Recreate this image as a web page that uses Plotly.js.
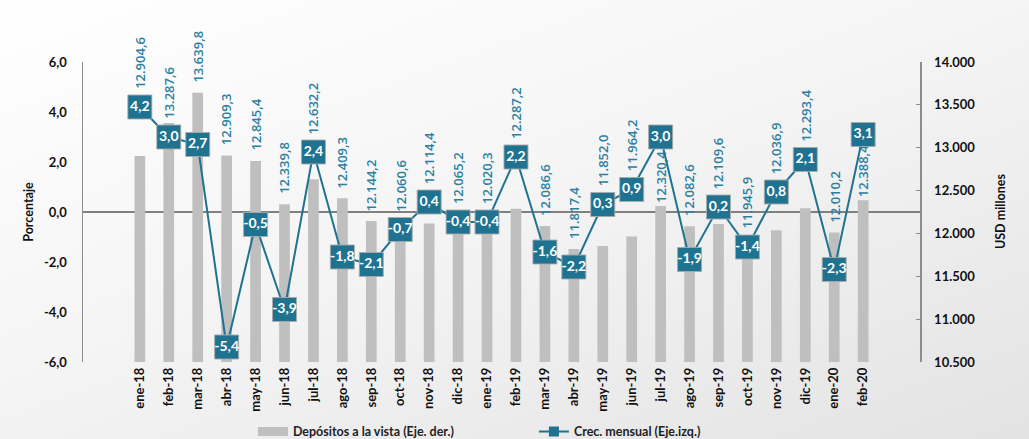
<!DOCTYPE html>
<html>
<head>
<meta charset="utf-8">
<script src="https://cdn.plot.ly/plotly-3.0.1.min.js"></script>
<style>
html,body{margin:0;padding:0;}
body{width:1029px;height:439px;background:linear-gradient(160deg,#ffffff 0%,#f5f5f5 45%,#e3e3e3 100%);overflow:hidden;}
#chart{width:1029px;height:439px;}
</style>
</head>
<body>
<div id="chart"></div>
<script>
// ---- data ----
var categories = ['ene-18','feb-18','mar-18','abr-18','may-18','jun-18','jul-18','ago-18','sep-18','oct-18','nov-18','dic-18','ene-19','feb-19','mar-19','abr-19','may-19','jun-19','jul-19','ago-19','sep-19','oct-19','nov-19','dic-19','ene-20','feb-20'];
var depositos = [12904.6,13287.6,13639.8,12909.3,12845.4,12339.8,12632.2,12409.3,12144.2,12060.6,12114.4,12065.2,12020.3,12287.2,12086.6,11817.4,11852.0,11964.2,12320.4,12082.6,12109.6,11945.9,12036.9,12293.4,12010.2,12388.4];
var crecMensual = [4.2,3.0,2.7,-5.4,-0.5,-3.9,2.4,-1.8,-2.1,-0.7,0.4,-0.4,-0.4,2.2,-1.6,-2.2,0.3,0.9,3.0,-1.9,0.2,-1.4,0.8,2.1,-2.3,3.1];
var leftTickVals = [-6,-4,-2,0,2,4,6];
var leftTickText = ['-6,0','-4,0','-2,0','0,0','2,0','4,0','6,0'];
// placement of each deposit label: 'm' above the line marker, 'b' above the bar, 'u' under the marker (bar text)
var labelPlacement = ['m','m','b','b','b','b','m','b','b','m','m','m','m','m','b','b','m','m','u','b','m','b','m','m','b','u'];

// ---- helpers ----
function fmtDep(v){
  var parts = v.toFixed(1).split('.');
  var ip = parts[0].replace(/\B(?=(\d{3})+(?!\d))/g,'.');
  return ip + ',' + parts[1];
}
function fmtPct(v){ return v.toFixed(1).replace('.',','); }

var TEAL = '#1f7391';
var LABEL = '#2a7fa2';
var FONT = 'Lato, "Open Sans", sans-serif';
var labelFont = {family:'"Open Sans", sans-serif', size:13, color:LABEL, weight:600};
var tickFont = {family:FONT, size:13, color:'#111', weight:'bold'};

var barText = depositos.map(function(v,i){
  return labelPlacement[i] === 'u' ? fmtDep(v) : '';
});

var annotations = [];
categories.forEach(function(c,i){
  if (labelPlacement[i] === 'm') {
    annotations.push({x:c, y:crecMensual[i], xref:'x', yref:'y2', text:fmtDep(depositos[i]),
      textangle:-90, showarrow:false, yanchor:'bottom', xanchor:'center', yshift:16, font:labelFont});
  } else if (labelPlacement[i] === 'b') {
    annotations.push({x:c, y:depositos[i], xref:'x', yref:'y', text:fmtDep(depositos[i]),
      textangle:-90, showarrow:false, yanchor:'bottom', xanchor:'center', yshift:8, font:labelFont});
  }
});
annotations.push({xref:'paper', yref:'paper', x:-0.066, y:0.5, text:'Porcentaje', textangle:-90,
  showarrow:false, xanchor:'center', yanchor:'middle', font:{family:FONT, size:12.5, color:'#111', weight:'bold'}});
annotations.push({xref:'paper', yref:'paper', x:1.0956, y:0.5, text:'USD millones', textangle:-90,
  showarrow:false, xanchor:'center', yanchor:'middle', font:{family:FONT, size:12.5, color:'#111', weight:'bold'}});

var traces = [
  {
    type:'bar', x:categories, y:depositos, yaxis:'y',
    marker:{color:'#bfbfbf'}, showlegend:false,
    text:barText, textposition:'outside', textangle:-90, constraintext:'none',
    cliponaxis:false, textfont:labelFont, hoverinfo:'skip'
  },
  {
    type:'scatter', mode:'lines+markers+text', x:categories, y:crecMensual, yaxis:'y2',
    line:{color:TEAL, width:2},
    marker:{symbol:'square', size:24, color:TEAL, line:{color:'rgba(170,170,170,0.9)', width:1}},
    text:crecMensual.map(fmtPct), textposition:'middle center',
    textfont:{family:FONT, size:14, color:'#ffffff', weight:'bold'},
    cliponaxis:false, showlegend:false, hoverinfo:'skip'
  },
  {
    type:'scatter', mode:'lines', x:[null], y:[null], name:'Depósitos a la vista (Eje. der.)',
    line:{color:'#bfbfbf', width:9}
  },
  {
    type:'scatter', mode:'lines+markers', x:[null], y:[null], name:'Crec. mensual (Eje.izq.)',
    line:{color:TEAL, width:2}, marker:{symbol:'square', size:10, color:TEAL}
  }
];

var layout = {
  width:1029, height:439,
  margin:{l:83, r:109, t:62, b:77, pad:0, autoexpand:false},
  paper_bgcolor:'rgba(0,0,0,0)', plot_bgcolor:'rgba(0,0,0,0)',
  separators:',.',
  font:{family:FONT, color:'#111'},
  bargap:0.63,
  showlegend:true,
  legend:{orientation:'h', x:0.203, xanchor:'left', y:-0.233, yanchor:'middle',
          font:{family:FONT, size:12.5, color:'#222', weight:'bold'}, entrywidth:236,
          bgcolor:'rgba(0,0,0,0)'},
  xaxis:{type:'category', showline:false, ticks:'', showgrid:false, zeroline:false, automargin:false,
         tickangle:-90, tickfont:tickFont, ticklabelstandoff:2},
  yaxis:{range:[10500,14000], dtick:500, tick0:10500, tickformat:',.0f', side:'right',
          showgrid:false, zeroline:false, showline:true, linecolor:'#8c8c8c', linewidth:1.5,
          ticks:'inside', ticklen:4, tickcolor:'#8c8c8c', automargin:false,
          tickfont:tickFont, ticklabelstandoff:10},
  yaxis2:{range:[-6,6], tickvals:leftTickVals, ticktext:leftTickText, showgrid:false,
         overlaying:'y', side:'left', automargin:false,
         showline:true, linecolor:'#8c8c8c', linewidth:1.5, ticks:'',
         zeroline:true, zerolinecolor:'#808080', zerolinewidth:1.5,
         tickfont:tickFont, ticklabelstandoff:12},
  annotations:annotations
};

Plotly.newPlot('chart', traces, layout, {displayModeBar:false, staticPlot:true});
</script>
</body>
</html>
